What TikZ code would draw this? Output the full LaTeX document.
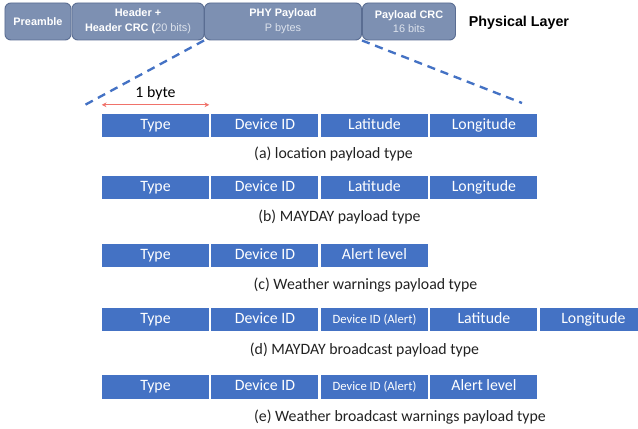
\documentclass[tikz,border=0pt]{standalone}
\usepackage{fontspec}
\setmainfont{Carlito}
\newfontfamily\arialfont{Liberation Sans}
\usetikzlibrary{positioning,arrows.meta}
\definecolor{fieldblue}{HTML}{4472C4}
\definecolor{phyfill}{HTML}{7D90B2}
\definecolor{phyedge}{HTML}{5A6D92}
\definecolor{phytext}{HTML}{DCE2EC}
\definecolor{bytered}{HTML}{F0726A}
\definecolor{captext}{HTML}{222222}
\tikzset{field/.style={fill=fieldblue,text=white,minimum width=3.21cm,minimum height=0.69cm,inner sep=0pt,text height=9pt,text depth=2.5pt,font=\fontsize{13.5}{15}\selectfont},
	 smallfield/.style={field,text height=7.5pt,text depth=2pt,font=\fontsize{10.8}{12}\selectfont},
	 phybox/.style={draw=phyedge,line width=0.8pt,fill=phyfill,rounded corners=5pt,text=white,minimum height=1.11cm,inner sep=0pt,align=center,font=\arialfont\bfseries\fontsize{9.3}{12.5}\selectfont},
	 caption/.style={text=captext,font=\fontsize{13.5}{15}\selectfont},
	 zoomline/.style={draw=fieldblue,line width=2pt,dash pattern=on 7pt off 5pt},
	 node distance = 0.06cm
	 }

\begin{document}
\begin{tikzpicture}[x=0.03cm,y=-0.03cm] % LoRa frame and payload types
	\useasboundingbox (0,0) rectangle (638,429);
	% physical layer frame
	\node[phybox,minimum width=1.98cm] (pre) at (38,21.5) {Preamble};
	\node[phybox,minimum width=3.96cm] (hdr) at (138,21.5) {Header +\\Header CRC ({\mdseries\color{phytext}20 bits)}};
	\node[phybox,minimum width=4.71cm] (phy) at (283,21.5) {PHY Payload\\{\mdseries\color{phytext}P bytes}};
	\node[phybox,minimum width=2.79cm] (crc) at (409,21.5) {Payload CRC\\{\mdseries\color{phytext}16 bits}};
	\node[font=\arialfont\bfseries\fontsize{12.2}{14}\selectfont] (layer) at (519,23) {Physical Layer};
	\coordinate (zl) at (83,106);
	\coordinate (zr) at (522,103);
	\draw[zoomline] (phy.south west) -- (zl);
	\draw[zoomline] (phy.south east) -- (zr);
	% (a)
	\node[field] (a1) at (155.5,125.5) {Type};
	\node[field] (a2) [right= of a1] {Device ID};
	\node[field] (a3) [right= of a2] {Latitude};
	\node[field] (a4) [right= of a3] {Longitude};
	\node[caption] (capa) at (333.5,154) {(a) location payload type};
	\draw[bytered,line width=0.8pt,{Stealth[length=4pt,width=4pt]}-{Stealth[length=4pt,width=4pt]}] ([yshift=0.27cm]a1.north west) -- ([yshift=0.27cm]a1.north east) node[midway,above,text=black,font=\fontsize{13.5}{15}\selectfont] (byte) {1 byte};
	% (b)
	\node[field] (b1) at (155.5,187.5) {Type};
	\node[field] (b2) [right= of b1] {Device ID};
	\node[field] (b3) [right= of b2] {Latitude};
	\node[field] (b4) [right= of b3] {Longitude};
	\node[caption] (capb) at (339.5,217) {(b) MAYDAY payload type};
	% (c)
	\node[field] (c1) at (155.5,256) {Type};
	\node[field] (c2) [right= of c1] {Device ID};
	\node[field] (c3) [right= of c2] {Alert level};
	\node[caption] (capc) at (365.5,285) {(c) Weather warnings payload type};
	% (d)
	\node[field] (d1) at (155.5,320) {Type};
	\node[field] (d2) [right= of d1] {Device ID};
	\node[smallfield] (d3) [right= of d2] {Device ID (Alert)};
	\node[field] (d4) [right= of d3] {Latitude};
	\node[field] (d5) [right= of d4] {Longitude};
	\node[caption] (capd) at (364.5,350) {(d) MAYDAY broadcast payload type};
	% (e)
	\node[field] (e1) at (155.5,387) {Type};
	\node[field] (e2) [right= of e1] {Device ID};
	\node[smallfield] (e3) [right= of e2] {Device ID (Alert)};
	\node[field] (e4) [right= of e3] {Alert level};
	\node[caption] (cape) at (400,417) {(e) Weather broadcast warnings payload type};
\end{tikzpicture}
\end{document}
